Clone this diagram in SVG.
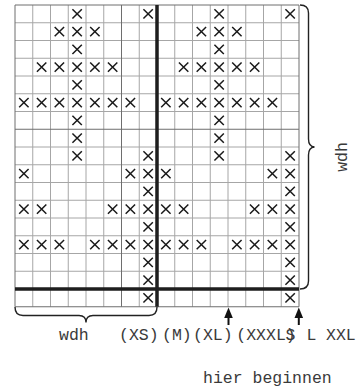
<svg xmlns="http://www.w3.org/2000/svg" xmlns:xlink="http://www.w3.org/1999/xlink" width="363" height="389" viewBox="0 0 363 389">
<style>
.thin{stroke:#a6a6a6;stroke-width:1;fill:none}
.dark{stroke:#6e6e6e;stroke-width:1;fill:none}
.thick{stroke:#1e1e1e;stroke-width:3.5;fill:none}
.brace{stroke:#222;stroke-width:1.4;fill:none}
.arrow{stroke:#111;stroke-width:2}
.head{fill:#111}
.lbl{font-family:"Liberation Mono","DejaVu Sans Mono",monospace;font-size:16.5px;fill:#3a3a3a}
</style>
<defs>
<path id="x" d="M-4.7,-4.7L4.7,4.7M4.7,-4.7L-4.7,4.7" stroke="#1a1a1a" stroke-width="1.5" fill="none"/>
</defs>
<rect x="0" y="0" width="363" height="389" fill="#fff"/>
<g id="grid">
<path class="thin" d="M32.75,5V306.75M50.5,5V306.75M68.25,5V306.75M86,5V306.75M103.75,5V306.75M139.25,5V306.75M174.75,5V306.75M192.5,5V306.75M210.25,5V306.75M228,5V306.75M245.75,5V306.75M263.5,5V306.75M281.25,5V306.75
M15,22.75H299M15,40.5H299M15,58.25H299M15,76H299M15,93.75H299M15,111.5H299M15,147H299M15,164.75H299M15,182.5H299M15,200.25H299M15,218H299M15,235.75H299M15,253.5H299M15,271.25H299"/>
<path class="dark" d="M121.5,5V306.75M15,129.25H299M15,5H299V306.75H15Z"/>
<path class="thick" d="M157,5V306.75M15,289H299"/>
</g>
<g id="marks">
<use xlink:href="#x" x="77.13" y="13.88"/><use xlink:href="#x" x="148.13" y="13.88"/><use xlink:href="#x" x="219.13" y="13.88"/><use xlink:href="#x" x="290.13" y="13.88"/>
<use xlink:href="#x" x="59.38" y="31.63"/><use xlink:href="#x" x="77.13" y="31.63"/><use xlink:href="#x" x="94.88" y="31.63"/><use xlink:href="#x" x="201.38" y="31.63"/><use xlink:href="#x" x="219.13" y="31.63"/><use xlink:href="#x" x="236.88" y="31.63"/>
<use xlink:href="#x" x="77.13" y="49.38"/><use xlink:href="#x" x="219.13" y="49.38"/>
<use xlink:href="#x" x="41.63" y="67.13"/><use xlink:href="#x" x="59.38" y="67.13"/><use xlink:href="#x" x="77.13" y="67.13"/><use xlink:href="#x" x="94.88" y="67.13"/><use xlink:href="#x" x="112.63" y="67.13"/><use xlink:href="#x" x="183.63" y="67.13"/><use xlink:href="#x" x="201.38" y="67.13"/><use xlink:href="#x" x="219.13" y="67.13"/><use xlink:href="#x" x="236.88" y="67.13"/><use xlink:href="#x" x="254.63" y="67.13"/>
<use xlink:href="#x" x="77.13" y="84.88"/><use xlink:href="#x" x="219.13" y="84.88"/>
<use xlink:href="#x" x="23.88" y="102.63"/><use xlink:href="#x" x="41.63" y="102.63"/><use xlink:href="#x" x="59.38" y="102.63"/><use xlink:href="#x" x="77.13" y="102.63"/><use xlink:href="#x" x="94.88" y="102.63"/><use xlink:href="#x" x="112.63" y="102.63"/><use xlink:href="#x" x="130.38" y="102.63"/><use xlink:href="#x" x="165.88" y="102.63"/><use xlink:href="#x" x="183.63" y="102.63"/><use xlink:href="#x" x="201.38" y="102.63"/><use xlink:href="#x" x="219.13" y="102.63"/><use xlink:href="#x" x="236.88" y="102.63"/><use xlink:href="#x" x="254.63" y="102.63"/><use xlink:href="#x" x="272.38" y="102.63"/>
<use xlink:href="#x" x="77.13" y="120.38"/><use xlink:href="#x" x="219.13" y="120.38"/>
<use xlink:href="#x" x="77.13" y="138.13"/><use xlink:href="#x" x="219.13" y="138.13"/>
<use xlink:href="#x" x="77.13" y="155.88"/><use xlink:href="#x" x="148.13" y="155.88"/><use xlink:href="#x" x="219.13" y="155.88"/><use xlink:href="#x" x="290.13" y="155.88"/>
<use xlink:href="#x" x="23.88" y="173.63"/><use xlink:href="#x" x="130.38" y="173.63"/><use xlink:href="#x" x="148.13" y="173.63"/><use xlink:href="#x" x="165.88" y="173.63"/><use xlink:href="#x" x="272.38" y="173.63"/><use xlink:href="#x" x="290.13" y="173.63"/>
<use xlink:href="#x" x="148.13" y="191.38"/><use xlink:href="#x" x="290.13" y="191.38"/>
<use xlink:href="#x" x="23.88" y="209.13"/><use xlink:href="#x" x="41.63" y="209.13"/><use xlink:href="#x" x="112.63" y="209.13"/><use xlink:href="#x" x="130.38" y="209.13"/><use xlink:href="#x" x="148.13" y="209.13"/><use xlink:href="#x" x="165.88" y="209.13"/><use xlink:href="#x" x="183.63" y="209.13"/><use xlink:href="#x" x="254.63" y="209.13"/><use xlink:href="#x" x="272.38" y="209.13"/><use xlink:href="#x" x="290.13" y="209.13"/>
<use xlink:href="#x" x="148.13" y="226.88"/><use xlink:href="#x" x="290.13" y="226.88"/>
<use xlink:href="#x" x="23.88" y="244.63"/><use xlink:href="#x" x="41.63" y="244.63"/><use xlink:href="#x" x="59.38" y="244.63"/><use xlink:href="#x" x="94.88" y="244.63"/><use xlink:href="#x" x="112.63" y="244.63"/><use xlink:href="#x" x="130.38" y="244.63"/><use xlink:href="#x" x="148.13" y="244.63"/><use xlink:href="#x" x="165.88" y="244.63"/><use xlink:href="#x" x="183.63" y="244.63"/><use xlink:href="#x" x="201.38" y="244.63"/><use xlink:href="#x" x="236.88" y="244.63"/><use xlink:href="#x" x="254.63" y="244.63"/><use xlink:href="#x" x="272.38" y="244.63"/><use xlink:href="#x" x="290.13" y="244.63"/>
<use xlink:href="#x" x="148.13" y="262.38"/><use xlink:href="#x" x="290.13" y="262.38"/>
<use xlink:href="#x" x="148.13" y="280.13"/><use xlink:href="#x" x="290.13" y="280.13"/>
<use xlink:href="#x" x="148.13" y="297.88"/><use xlink:href="#x" x="290.13" y="297.88"/>
</g>
<g id="connectors">
<path id="brace-right" class="brace" d="M300,5Q308.5,5 308.5,13V139Q308.5,146.5 314.5,147Q308.5,147.5 308.5,155V281Q308.5,289 300,289"/>
<path id="brace-bottom" class="brace" d="M15,307Q15,315.5 23,315.5H79Q86,315.5 86,322.5Q86,315.5 93,315.5H149Q157,315.5 157,307"/>
<g id="arrow-1"><line class="arrow" x1="228.5" y1="325" x2="228.5" y2="316"/><polygon class="head" points="228.5,307.5 224.2,318 232.8,318"/></g>
<g id="arrow-2"><line class="arrow" x1="298.8" y1="325" x2="298.8" y2="316"/><polygon class="head" points="298.8,307.5 294.5,318 303.1,318"/></g>
</g>
<g id="labels" class="lbl">
<text x="59" y="339.5">wdh</text>
<text transform="translate(347,157) rotate(-90)" text-anchor="middle">wdh</text>
<text x="119" y="339.5">(XS)</text>
<text x="162" y="339.5">(M)</text>
<text x="193" y="339.5">(XL)</text>
<text x="236.3" y="339.5">(XXXL)</text>
<text x="285.5" y="339.5">S</text>
<text x="306.5" y="339.5">L</text>
<text x="326" y="339.5">XXL</text>
<text x="203" y="383">hier beginnen</text>
</g>
</svg>
